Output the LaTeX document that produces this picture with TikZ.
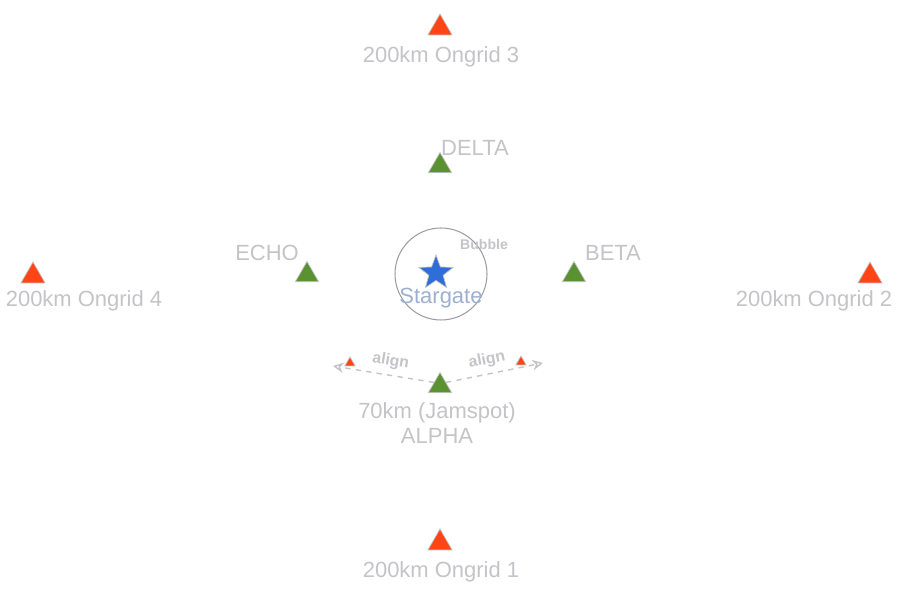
\documentclass[tikz,border=0pt]{standalone}
\usepackage{fontspec}
\setmainfont{Liberation Sans}
\usetikzlibrary{arrows.meta,positioning,shapes.geometric}
\definecolor{gridred}  {HTML}{FF4515}
\definecolor{sitegreen}{HTML}{5A9131}
\definecolor{gateblue} {HTML}{2F6ED6}
\definecolor{gatetext} {HTML}{9DB0CF}
\definecolor{halo}     {HTML}{C4C4C8}
\definecolor{ringgray} {HTML}{9C9CA6}
\tikzset{
  tri/.style={regular polygon, regular polygon sides=3, inner sep=0pt,
              draw=halo, line width=0.4pt},
  redtri/.style={tri, fill=gridred, minimum size=5.6mm},
  greentri/.style={tri, fill=sitegreen, minimum size=5.4mm},
  smalltri/.style={tri, fill=gridred, minimum size=2.4mm},
  lbl/.style={text=halo, font=\fontsize{12.5}{15}\selectfont, inner sep=0pt},
  alignline/.style={draw=halo, dashed, line width=0.8pt,
                    -{Stealth[open, length=6pt, width=6pt]}}
}
\begin{document}
\begin{tikzpicture}[x=0.2mm, y=-0.2mm]
  \useasboundingbox (0,0) rectangle (900,593);

  % stargate bubble
  \node[circle, draw=ringgray, line width=0.6pt, minimum size=18.4mm,
        inner sep=0pt] (bubble) at (441,274) {};
  \node[star, star points=5, star point ratio=2.4, fill=gateblue, draw=halo,
        line width=0.4pt, minimum size=7.2mm, inner sep=0pt] (stargate) at (436,273) {};
  \node[text=gatetext, font=\fontsize{12.5}{15}\selectfont, inner sep=0pt]
        (stargatelbl) at (441,298) {Stargate};
  \node[text=halo, font=\bfseries\fontsize{8}{10}\selectfont, inner sep=0pt]
        (bubblelbl) at (484,244) {Bubble};

  % ongrid markers
  \foreach \n/\x/\y/\lx/\ly in {1/440/543/441/572, 2/870/276/814/301,
                                3/440/28/441/57, 4/33/276/84/301}
    {\node[redtri] (ongrid\n) at (\x,\y) {};
     \node[lbl] (ongrid\n lbl) at (\lx,\ly) {200km Ongrid \n};}

  % sites
  \foreach \n/\x/\y/\lx/\ly in {DELTA/440/166/475/148, ECHO/307/275/267/253,
                                BETA/574/275/613/253}
    {\node[greentri] (\n) at (\x,\y) {};
     \node[lbl] (\n lbl) at (\lx,\ly) {\n};}
  \node[greentri] (ALPHA) at (440,386) {};
  \node[lbl, align=center, font=\fontsize{12.5}{14.7}\selectfont] (ALPHAlbl) at (437,423)
        {70km (Jamspot)\\ALPHA};

  % align arrows
  \node[smalltri] (alignredL) at (350,363) {};
  \node[smalltri] (alignredR) at (521,362) {};
  \coordinate (alignL) at (333,366);
  \coordinate (alignR) at (543,363);
  \draw[alignline] (ALPHA.side 1) -- (alignL)
    node[pos=0.45, above=0pt, sloped, text=halo, font=\bfseries\fontsize{9}{10}\selectfont] {align};
  \draw[alignline] (ALPHA.side 3) -- (alignR)
    node[pos=0.45, above=0pt, sloped, text=halo, font=\bfseries\fontsize{9}{10}\selectfont] {align};
\end{tikzpicture}
\end{document}
